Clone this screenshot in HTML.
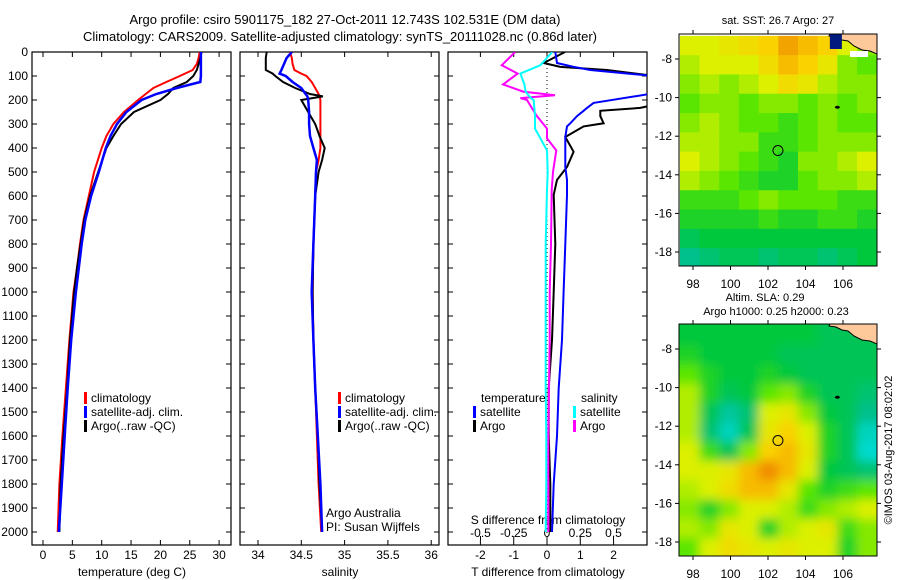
<!DOCTYPE html>
<html><head><meta charset="utf-8">
<style>
body{margin:0;background:#fff;}
svg{display:block;font-family:"Liberation Sans",sans-serif;}
text{font-size:12px;fill:#000;}
</style></head>
<body>
<svg id="fig" width="900" height="580" viewBox="0 0 900 580" xmlns="http://www.w3.org/2000/svg">
<defs>
<clipPath id="c1"><rect x="32" y="52" width="199" height="493"/></clipPath>
<clipPath id="c2"><rect x="240" y="52" width="199" height="493"/></clipPath>
<clipPath id="c3"><rect x="448" y="52" width="199" height="493"/></clipPath>
<clipPath id="cm1"><rect x="679" y="34" width="198" height="232"/></clipPath>
<clipPath id="cm2"><rect x="679" y="324" width="198" height="232"/></clipPath>
<filter id="bl"><feGaussianBlur stdDeviation="5"/></filter>
</defs>
<text x="345" y="24" text-anchor="middle" style="font-size:13px">Argo profile: csiro 5901175_182 27-Oct-2011 12.743S 102.531E (DM data)</text>
<text x="340" y="41" text-anchor="middle" style="font-size:13px">Climatology: CARS2009. Satellite-adjusted climatology: synTS_20111028.nc (0.86d later)</text>
<g id="p1"></g>
<g id="p2"></g>
<g id="p3"></g>
<g id="m1"></g>
<g id="m2"></g>
<text x="778" y="24" text-anchor="middle" style="font-size:11px">sat. SST: 26.7 Argo: 27</text>
<text x="765" y="301" text-anchor="middle" style="font-size:11px">Altim. SLA: 0.29</text>
<text x="776" y="315" text-anchor="middle" style="font-size:11px">Argo h1000: 0.25 h2000: 0.23</text>
<text transform="translate(892,450) rotate(-90)" text-anchor="middle" style="font-size:11px">©IMOS 03-Aug-2017 08:02:02</text>
</svg>
<script>
// ---- data ----
const depthT = [0,25,50,75,100,125,150,175,200,250,300,350,400,500,600,700,800,900,1000,1200,1400,1600,1800,2000];
const tempArgo = [27,26.8,26.5,26.2,25.6,24.5,22.2,21.3,20,15.5,13.3,12,10.8,9.4,8,7,6.4,5.8,5.3,4.6,4.1,3.5,3.0,2.8];
const tempClim = [26.7,26.5,26.2,25.5,23.3,21,18.8,17.5,16.2,13.8,12,10.8,10,8.7,7.8,6.9,6.3,5.8,5.2,4.5,3.9,3.3,2.8,2.5];
const tempSat = [26.9,26.9,26.9,26.9,26.9,26.8,22.8,19.3,16.8,14.2,12.6,11.5,10.7,9.5,8.2,7.2,6.6,6.1,5.6,4.8,4.2,3.7,3.2,2.7];
const depthS = [0,25,50,75,90,100,125,150,175,185,200,250,300,350,400,450,500,600,800,1000,1200,1400,1600,1800,2000];
const salArgo = [34.10,34.09,34.09,34.09,34.17,34.2,34.29,34.43,34.6,34.75,34.5,34.58,34.66,34.71,34.77,34.74,34.7,34.66,34.64,34.63,34.64,34.66,34.69,34.71,34.74];
const salClim = [34.37,34.39,34.4,34.42,34.5,34.56,34.62,34.66,34.70,34.71,34.72,34.72,34.72,34.72,34.72,34.7,34.67,34.66,34.64,34.63,34.64,34.66,34.68,34.7,34.73];
const salSat = [34.39,34.33,34.3,34.27,34.25,34.32,34.4,34.5,34.55,34.57,34.58,34.59,34.59,34.60,34.64,34.68,34.67,34.66,34.64,34.62,34.64,34.66,34.69,34.72,34.74];
const depthD = [0,46,62,75,104,166,212,233,245,267,297,310,354,416,479,533,595,800,1000,1200,1400,1600,1800,2000];
const dTArgo = [0.54,-0.1,0.4,1.8,3.5,3.5,3.5,2.8,1.6,1.6,1.7,1.1,0.55,0.8,0.6,0.3,0.2,0.25,0.2,0.15,0.05,0.05,0.1,0.1];
const dTSat = [0.25,0.3,0.8,1.3,3.5,3.5,1.4,1.2,1.1,0.9,0.7,0.6,0.55,0.55,0.55,0.6,0.6,0.55,0.5,0.45,0.35,0.3,0.2,0.15];
const depthDS = [0,55,90,135,165,180,192,200,264,319,360,410,500,576,800,1000,1200,1400,1600,1800,2000];
const dSArgo = [-0.24,-0.34,-0.22,-0.33,-0.18,0.06,-0.2,-0.15,-0.08,0,0.0,0.07,0.045,0.035,0.03,0.02,0.02,0.015,0.01,0.01,0.01];
const dSSat = [0.04,-0.05,-0.2,-0.17,-0.16,-0.14,-0.12,-0.1,-0.09,-0.09,-0.05,0,0.005,0.0,-0.01,-0.01,-0.01,-0.01,-0.005,-0.005,-0.01];
const depthTicks = [0,100,200,300,400,500,600,700,800,900,1000,1100,1200,1300,1400,1500,1600,1700,1800,1900,2000];
const tempTicks = [0,5,10,15,20,25,30];
const salTicks = [34,34.5,35,35.5,36];
const salTickLabels = ["34","34.5","35","35.5","36"];
const dTTicks = [-2,-1,0,1,2];
const dSTicks = [-0.5,-0.25,0,0.25,0.5];
const dSTickLabels = ["-0.5","-0.25","0","0.25","0.5"];
const lonTicks = [98,100,102,104,106];
const latTicks = [-8,-10,-12,-14,-16,-18];
// map grids (colour index 0=cyan .. 1=orange), rows north->south, lat -6.8..-18.8, lon 97.3..107.8
const sstGrid = [
[.7,.7,.75,.8,.85,.95,.9,.85,.7,.6],
[.65,.7,.7,.7,.8,.9,.85,.75,.6,.55],
[.6,.65,.6,.65,.7,.8,.75,.65,.6,.6],
[.55,.6,.6,.55,.6,.6,.55,.6,.55,.6],
[.6,.65,.6,.55,.55,.5,.55,.6,.55,.55],
[.65,.65,.6,.6,.5,.5,.55,.6,.6,.6],
[.7,.65,.6,.55,.5,.45,.6,.6,.65,.7],
[.65,.6,.55,.5,.45,.45,.55,.6,.6,.65],
[.5,.5,.5,.55,.6,.55,.55,.55,.5,.5],
[.45,.45,.45,.45,.5,.45,.45,.5,.5,.45],
[.35,.4,.4,.4,.4,.4,.4,.4,.4,.4],
[.25,.3,.35,.35,.3,.35,.35,.3,.35,.4]];
const slaGrid = [
[.4,.4,.4,.4,.4,.4,.4,.35,.35,.35],
[.45,.4,.4,.4,.4,.35,.35,.35,.35,.35],
[.55,.45,.4,.4,.45,.4,.35,.35,.35,.35],
[.65,.45,.35,.4,.55,.6,.45,.35,.35,.3],
[.65,.35,.2,.3,.7,.75,.6,.4,.35,.25],
[.65,.3,.1,.35,.75,.85,.7,.45,.35,.1],
[.7,.5,.35,.6,.85,.9,.75,.45,.35,.05],
[.7,.7,.75,.9,1,.9,.7,.4,.35,.3],
[.65,.7,.8,.9,.9,.75,.55,.45,.5,.55],
[.6,.45,.6,.7,.7,.65,.5,.6,.65,.7],
[.65,.6,.75,.7,.45,.65,.7,.75,.5,.6],
[.55,.7,.8,.75,.7,.75,.7,.7,.45,.6]];
const argoLon = 102.531, argoLat = -12.743;

// ---- helpers ----
const NS="http://www.w3.org/2000/svg";
function el(tag, attrs, parent){const e=document.createElementNS(NS,tag);for(const k in attrs)e.setAttribute(k,attrs[k]);if(parent)parent.appendChild(e);return e;}
const yD = d => 52 + d*0.24;
const xT = t => 43 + t*5.87;
const xS = s => 258 + (s-34)*86.6;
const xDT = v => 547 + v*33.3;
const xDS = v => 547 + v*133;
const xLon = l => 693 + (l-98)*18.75;
const yLat1 = l => 59 + (-8-l)*19.3;
const yLat2 = l => 349 + (-8-l)*19.3;

function frame(g,x0,label){
  const r=el('rect',{x:x0,y:52,width:199,height:493,fill:'none',stroke:'#000','stroke-width':1.2},g);
  
  
  depthTicks.forEach(d=>{
    el('line',{x1:x0,x2:x0+5,y1:yD(d),y2:yD(d),stroke:'#000'},g);
    el('line',{x1:x0+199,x2:x0+194,y1:yD(d),y2:yD(d),stroke:'#000'},g);
  });
  const t=el('text',{x:x0+100,y:576,'text-anchor':'middle'},g);t.textContent=label;
  
  
}
function xticks(g,vals,labels,fx,ylab){
  vals.forEach((v,i)=>{
    const x=fx(v);
    el('line',{x1:x,x2:x,y1:52,y2:57,stroke:'#000'},g);
    el('line',{x1:x,x2:x,y1:545,y2:540,stroke:'#000'},g);
    const t=el('text',{x:x,y:ylab,'text-anchor':'middle'},g);t.textContent=labels[i];
    
    
  });
}
function line(g,clip,depths,vals,fx,col,w,name){
  const pts=depths.map((d,i)=>fx(vals[i]).toFixed(1)+','+yD(d).toFixed(1)).join(' ');
  const p=el('polyline',{points:pts,fill:'none',stroke:col,'stroke-width':w,'clip-path':clip},g);
  
  
}
function legend(g,x,y,items){
  items.forEach((it,i)=>{
    el('rect',{x:x,y:y+i*14-10,width:3,height:12,fill:it[0]},g);
    const t=el('text',{x:x+7,y:y+i*14},g);t.textContent=it[1];
    
    
  });
}

// panel 1
const p1=document.getElementById('p1');
frame(p1,32,'temperature (deg C)');
depthTicks.forEach(d=>{const t=el('text',{x:28,y:yD(d)+4,'text-anchor':'end'},p1);t.textContent=d;
  
  });
xticks(p1,tempTicks,tempTicks.map(String),xT,559);
line(p1,'url(#c1)',depthT,tempClim,xT,'#f00',2,'climatology-temp-line');
line(p1,'url(#c1)',depthT,tempArgo,xT,'#000',2,'argo-temp-line');
line(p1,'url(#c1)',depthT,tempSat,xT,'#00f',2.5,'satellite-temp-line');
legend(p1,84,402,[['#f00','climatology'],['#00f','satellite-adj. clim.'],['#000','Argo(..raw -QC)']]);

// panel 2
const p2=document.getElementById('p2');
frame(p2,240,'salinity');
xticks(p2,salTicks,salTickLabels,xS,559);
line(p2,'url(#c2)',depthS,salClim,xS,'#f00',2,'climatology-sal-line');
line(p2,'url(#c2)',depthS,salArgo,xS,'#000',2,'argo-sal-line');
line(p2,'url(#c2)',depthS,salSat,xS,'#00f',2.5,'satellite-sal-line');
legend(p2,338,402,[['#f00','climatology'],['#00f','satellite-adj. clim.'],['#000','Argo(..raw -QC)']]);
[['Argo Australia',517],['PI: Susan Wijffels',531]].forEach(a=>{const t=el('text',{x:326,y:a[1]},p2);t.textContent=a[0];
  
  });

// panel 3
const p3=document.getElementById('p3');
frame(p3,448,'T difference from climatology');
xticks(p3,dTTicks,dTTicks.map(String),xDT,559);
dSTicks.forEach((v,i)=>{const x=xDS(v);el('line',{x1:x,x2:x,y1:540,y2:536,stroke:'#000'},p3);
  const t=el('text',{x:x,y:537,'text-anchor':'middle'},p3);t.textContent=dSTickLabels[i];
  
  });
{const t=el('text',{x:548,y:524,'text-anchor':'middle'},p3);t.textContent='S difference from climatology';
 
 }
el('line',{x1:xDT(0),x2:xDT(0),y1:52,y2:545,stroke:'#000','stroke-dasharray':'1,3'},p3);
line(p3,'url(#c3)',depthD,dTArgo,xDT,'#000',2,'argo-t-diff-line');
line(p3,'url(#c3)',depthD,dTSat,xDT,'#00f',2,'satellite-t-diff-line');
line(p3,'url(#c3)',depthDS,dSArgo,xDS,'#f0f',2,'argo-s-diff-line');
line(p3,'url(#c3)',depthDS,dSSat,xDS,'#0ff',2,'satellite-s-diff-line');
{const t=el('text',{x:481,y:402},p3);t.textContent='temperature';
 
 
 const s=el('text',{x:581,y:402},p3);s.textContent='salinity';
 
 }
legend(p3,473,416,[['#00f','satellite'],['#000','Argo']]);
legend(p3,573,416,[['#0ff','satellite'],['#f0f','Argo']]);

// maps
function cmap(v){
  const stops=[[0,[0,224,224]],[0.25,[0,192,140]],[0.4,[0,200,60]],[0.55,[90,230,0]],[0.7,[220,240,0]],[0.85,[250,210,0]],[1,[240,140,0]]];
  for(let i=1;i<stops.length;i++){if(v<=stops[i][0]){const a=stops[i-1],b=stops[i],f=(v-a[0])/(b[0]-a[0]);
    return 'rgb('+a[1].map((c,k)=>Math.round(c+(b[1][k]-c)*f)).join(',')+')';}}
  return 'rgb(240,140,0)';
}
function map(id,grid,y0,yLat,clip,blur){
  const g=document.getElementById(id);
  const inner=el('g',{'clip-path':clip},g);
  const cells=el('g',blur?{filter:'url(#bl)'}:{},inner);
  const rows=grid.length, cols=grid[0].length;
  const lon0=97.3,lon1=107.8,lat0=-6.8,lat1=-18.8;
  const pad=blur?1:0;
  for(let r=-pad;r<rows+pad;r++)for(let c=-pad;c<cols+pad;c++){
    const rr=Math.min(rows-1,Math.max(0,r)),cc=Math.min(cols-1,Math.max(0,c));
    const x=xLon(lon0+(lon1-lon0)*c/cols), x2=xLon(lon0+(lon1-lon0)*(c+1)/cols);
    const y=yLat(lat0+(lat1-lat0)*r/rows), y2=yLat(lat0+(lat1-lat0)*(r+1)/rows);
    const cell=el('rect',{x:x,y:y,width:x2-x+0.5,height:y2-y+0.5,fill:cmap(grid[rr][cc])},cells);
    
    
  }
  const land=el('polygon',{points:[[xLon(105.3),y0],[877,y0],[877,y0+20],[870,y0+17],[862,y0+16],[854,y0+12],[848,y0+7],[842,y0+6],[836,y0+3],[829,y0+2]].map(p=>p.join(',')).join(' '),fill:'#fdc99a',stroke:'#000','stroke-width':1},inner);
  
  
  el('ellipse',{cx:xLon(105.7),cy:yLat(-10.5),rx:2.5,ry:1.5,fill:'#000'},inner);
  const f=el('rect',{x:679,y:y0,width:198,height:232,fill:'none',stroke:'#000'},g);
  
  
  lonTicks.forEach(l=>{const x=xLon(l);el('line',{x1:x,x2:x,y1:y0,y2:y0-4,stroke:'#000'},g);el('line',{x1:x,x2:x,y1:y0+232,y2:y0+236,stroke:'#000'},g);
    const t=el('text',{x:x,y:y0+254,'text-anchor':'middle'},g);t.textContent=l;
    
    });
  latTicks.forEach(l=>{const y=yLat(l);el('line',{x1:679,x2:675,y1:y,y2:y,stroke:'#000'},g);el('line',{x1:877,x2:881,y1:y,y2:y,stroke:'#000'},g);
    const t=el('text',{x:672,y:y+4,'text-anchor':'end'},g);t.textContent=l;
    
    });
  const m=el('circle',{cx:xLon(argoLon),cy:yLat(argoLat),r:5,fill:'none',stroke:'#000'},g);
  
  
  return inner;
}
const i1=map('m1',sstGrid,34,yLat1,'url(#cm1)',false);
el('rect',{x:xLon(105.3),y:34,width:12,height:15,fill:'#001a80'},i1);
el('rect',{x:850,y:51,width:18,height:6,fill:'#fff'},i1);
map('m2',slaGrid,324,yLat2,'url(#cm2)',true);
</script>
</body></html>
